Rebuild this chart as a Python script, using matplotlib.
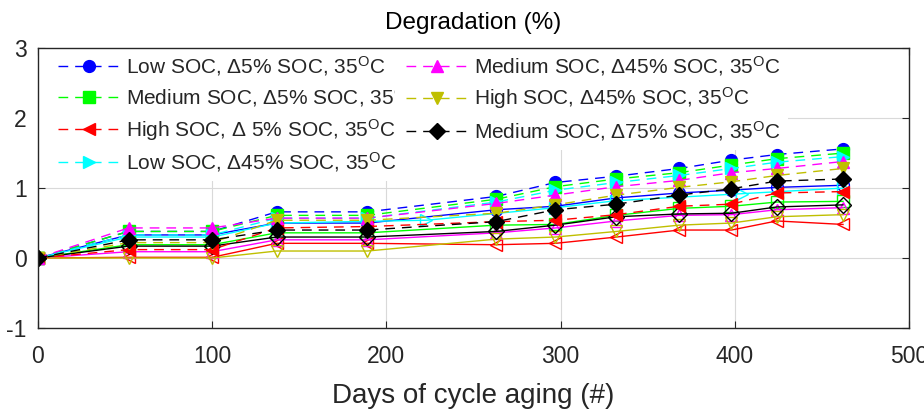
import numpy as np
import matplotlib
matplotlib.use("Agg")
import matplotlib.pyplot as plt
from matplotlib.patches import Rectangle
from matplotlib.transforms import Bbox

plt.rcParams['font.family'] = ['Liberation Sans', 'DejaVu Sans']
plt.rcParams['mathtext.fontset'] = 'custom'
plt.rcParams['mathtext.rm'] = 'Liberation Sans'
plt.rcParams['mathtext.it'] = 'Liberation Sans:italic'
plt.rcParams['axes.unicode_minus'] = False

# measurement days
days = [0, 52, 100, 137, 189, 263, 297, 332, 368, 398, 424, 462]
days_cyan = [0, 52, 100, 137, 223, 297, 332, 404, 462]

labels = [
    r'Low SOC, Δ5% SOC, 35$^{\rm O}$C',
    r'Medium SOC, Δ5% SOC, 35$^{\rm O}$C',
    r'High SOC, Δ 5% SOC, 35$^{\rm O}$C',
    r'Low SOC, Δ45% SOC, 35$^{\rm O}$C',
    r'Medium SOC, Δ45% SOC, 35$^{\rm O}$C',
    r'High SOC, Δ45% SOC, 35$^{\rm O}$C',
    r'Medium SOC, Δ75% SOC, 35$^{\rm O}$C',
]
colors = [(0, 0, 1), (0, 1, 0), (1, 0, 0), (0, 1, 1), (1, 0, 1), (0.75, 0.75, 0), (0, 0, 0)]
markers = ['o', 's', '<', '>', '^', 'v', 'D']

# dashed series (filled markers)
dashed = [
    [0, 0.38, 0.38, 0.66, 0.66, 0.88, 1.08, 1.17, 1.28, 1.40, 1.48, 1.56],
    [0, 0.38, 0.38, 0.61, 0.61, 0.84, 1.02, 1.13, 1.22, 1.33, 1.42, 1.50],
    [0, 0.12, 0.12, 0.43, 0.45, 0.52, 0.54, 0.62, 0.74, 0.77, 0.93, 0.95],
    [0, 0.33, 0.33, 0.57, 0.57, 0.80, 0.97, 1.08, 1.18, 1.28, 1.37, 1.45],
    [0, 0.43, 0.43, 0.57, 0.57, 0.78, 0.90, 1.02, 1.11, 1.22, 1.28, 1.38],
    [0, 0.22, 0.22, 0.54, 0.54, 0.64, 0.76, 0.90, 1.01, 1.09, 1.18, 1.28],
    [0, 0.26, 0.26, 0.40, 0.40, 0.52, 0.69, 0.77, 0.90, 0.99, 1.10, 1.13],
]
# solid series (open markers)
solid = [
    [0, 0.33, 0.33, 0.50, 0.50, 0.69, 0.74, 0.86, 0.93, 0.97, 1.01, 1.04],
    [0, 0.19, 0.19, 0.36, 0.36, 0.47, 0.48, 0.61, 0.71, 0.74, 0.80, 0.81],
    [0, 0.01, 0.01, 0.21, 0.21, 0.19, 0.21, 0.30, 0.40, 0.40, 0.53, 0.48],
    [0, 0.30, 0.30, 0.50, 0.54, 0.72, 0.82, 0.92, 1.00],
    [0, 0.09, 0.09, 0.26, 0.26, 0.36, 0.43, 0.53, 0.61, 0.62, 0.69, 0.72],
    [0, 0.00, 0.00, 0.10, 0.10, 0.27, 0.30, 0.38, 0.47, 0.50, 0.59, 0.62],
    [0, 0.17, 0.17, 0.30, 0.30, 0.38, 0.47, 0.59, 0.63, 0.64, 0.73, 0.76],
]

dark = (0.15, 0.15, 0.15)

fig = plt.figure(figsize=(9.24, 4.12), dpi=100)
ax = fig.add_axes([0.041, 0.204, 0.943, 0.679])

for i in range(7):
    x = days_cyan if i == 3 else days
    ax.plot(x, solid[i], '-', color=colors[i], lw=1.0, marker=markers[i],
            markersize=8.5, markerfacecolor='none', markeredgewidth=1.0)

handles = []
for i in range(7):
    h, = ax.plot(days, dashed[i], '--', color=colors[i], lw=1.0, dashes=(7, 5),
                 marker=markers[i], markersize=8.5, markerfacecolor=colors[i],
                 markeredgewidth=1.0)
    handles.append(h)

ax.set_xlim(0, 500)
ax.set_ylim(-1, 3)
ax.set_xticks([0, 100, 200, 300, 400, 500])
ax.set_yticks([-1, 0, 1, 2, 3])
ax.grid(True, color=(0.85, 0.85, 0.85), lw=0.8)
ax.set_axisbelow(True)
ax.tick_params(direction='in', top=True, right=True, labelsize=16.5,
               colors=dark, length=5, width=0.8)
ax.tick_params(axis='x', pad=12)
ax.tick_params(axis='y', pad=8)
for s in ax.spines.values():
    s.set_color(dark)
    s.set_linewidth(1.0)

# white area behind the legend hides the grid there
ax.add_patch(Rectangle((0.5, 1.54), 430, 1.45, facecolor='white', edgecolor='none', zorder=1))
ax.add_patch(Rectangle((0.5, 1.10), 207, 0.45, facecolor='white', edgecolor='none', zorder=1))

ax.set_title('Degradation (%)', fontsize=17.5, color='black', pad=14)
ax.set_xlabel('Days of cycle aging (#)', fontsize=20, color=dark, labelpad=11)

leg = ax.legend(handles, labels, loc='upper left', bbox_to_anchor=(0.023, 0.978),
                ncol=2, fontsize=15, frameon=False, handlelength=3,
                handletextpad=0.25, labelspacing=0.35, columnspacing=-0.7,
                borderaxespad=0, borderpad=0)
for t in leg.get_texts():
    t.set_color(dark)

# the second label is cut off by the next legend column
fig.canvas.draw()
t1 = leg.get_texts()[1]
t2 = leg.get_texts()[2]
b1 = t1.get_window_extent()
b2 = t2.get_window_extent()
t1.set_clip_box(Bbox.from_extents(b1.x0 - 2, b1.y0 - 10, b2.x1, b1.y1 + 10))
t1.set_clip_on(True)

fig.savefig('out.png', dpi=100)
